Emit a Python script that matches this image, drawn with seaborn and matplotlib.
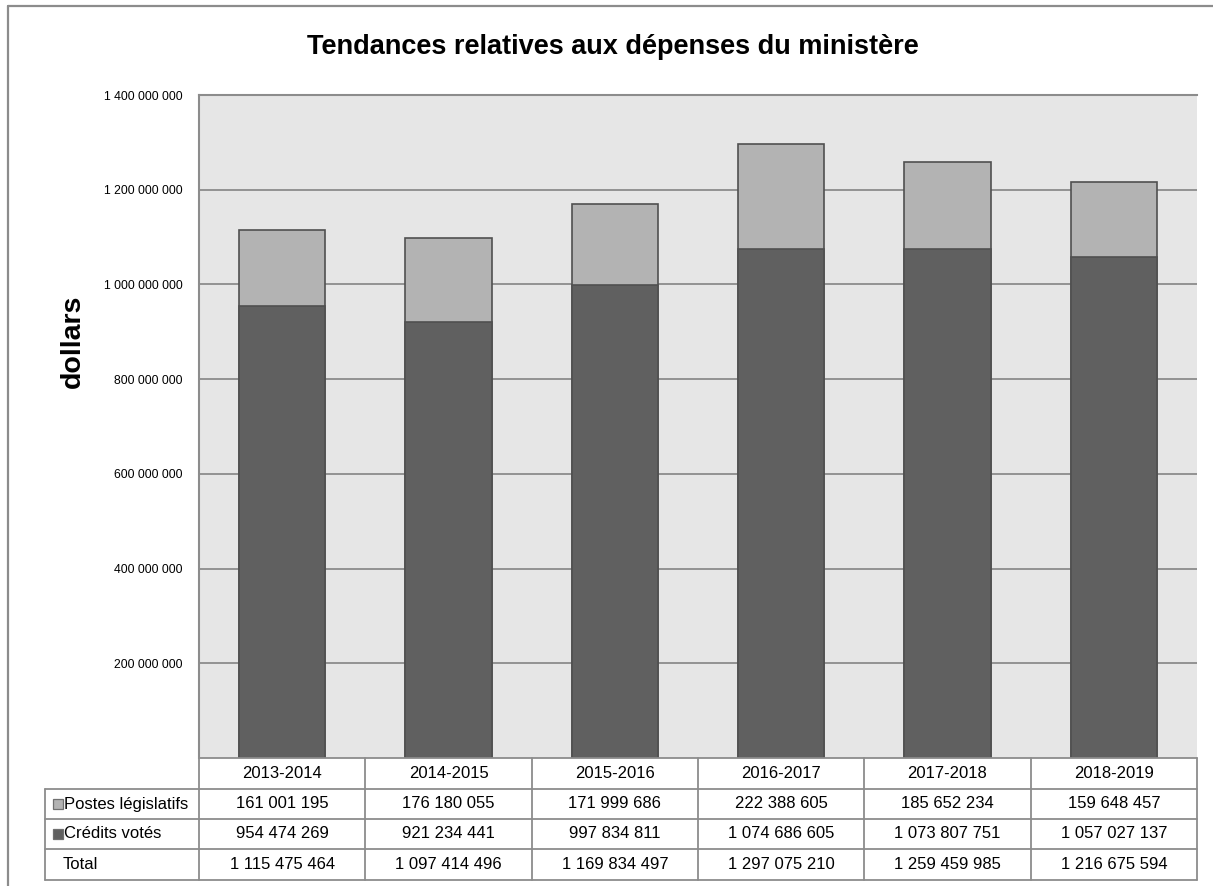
import matplotlib
matplotlib.use("Agg")
import matplotlib.pyplot as plt
import seaborn as sns
import pandas as pd
from matplotlib.lines import Line2D
from matplotlib.patches import Rectangle

years = ["2013-2014", "2014-2015", "2015-2016", "2016-2017", "2017-2018", "2018-2019"]
postes_legislatifs = [161001195, 176180055, 171999686, 222388605, 185652234, 159648457]
credits_votes = [954474269, 921234441, 997834811, 1074686605, 1073807751, 1057027137]
totals = [1115475464, 1097414496, 1169834497, 1297075210, 1259459985, 1216675594]
yticks = [200000000, 400000000, 600000000, 800000000, 1000000000, 1200000000, 1400000000]

sns.set_style("white")
plt.rcParams['font.family'] = ['Liberation Sans', 'DejaVu Sans']
plt.rcParams['text.color'] = 'black'
plt.rcParams['ytick.color'] = 'black'
plt.rcParams['ytick.labelcolor'] = 'black'

W, H = 1213, 886
fig = plt.figure(figsize=(W / 100, H / 100), dpi=100)

def fx(px):
    return px / W

def fy(py):
    return 1 - py / H

ax_l, ax_r, ax_t, ax_b = 199, 1197, 95, 758
ax = fig.add_axes([fx(ax_l), fy(ax_b), fx(ax_r - ax_l), (ax_b - ax_t) / H])
ax.set_facecolor("#e6e6e6")

df = pd.DataFrame({"year": years, "total": totals, "votes": credits_votes})
light = "#b3b3b3"
dark = "#606060"
edge = "#505050"
sns.barplot(data=df, x="year", y="total", color=light, saturation=1, width=0.52,
            edgecolor=edge, linewidth=1.2, ax=ax, zorder=3)
sns.barplot(data=df, x="year", y="votes", color=dark, saturation=1, width=0.52,
            edgecolor=edge, linewidth=1.2, ax=ax, zorder=4)

ax.set_xlim(-0.5, len(years) - 0.5)
ax.set_ylim(0, 1400000000)
ax.set_yticks(yticks)
ax.set_yticklabels([f"{v:,}".replace(",", " ") for v in yticks], fontsize=8.8)
ax.tick_params(axis="y", length=0, pad=12)
ax.set_xticks([])
ax.set_xlabel("")
ax.set_ylabel("")
ax.yaxis.grid(True, color="#8c8c8c", linewidth=1.3, zorder=1)
ax.set_axisbelow(True)
for s in ["right", "bottom"]:
    ax.spines[s].set_visible(False)
for s in ["left", "top"]:
    ax.spines[s].set_color("#8c8c8c")
    ax.spines[s].set_linewidth(1.5)

# Title and y-label
fig.text(fx(613), fy(47), "Tendances relatives aux dépenses du ministère",
         ha="center", va="center", fontsize=19.5, fontweight="bold")
fig.text(fx(73), fy(341), "dollars", ha="center", va="center", rotation=90,
         fontsize=20.5, fontweight="bold")

# Outer frame (top and left)
fc = "#8c8c8c"
fig.add_artist(Line2D([fx(8), 1], [fy(5.5), fy(5.5)], color=fc, lw=1.6))
fig.add_artist(Line2D([fx(8), fx(8)], [fy(5.5), 0], color=fc, lw=1.6))

# Data table
rows_y = [758, 789, 819, 849, 880]
tab_l = 45
col_w = (ax_r - ax_l) / len(years)
lc = "#8c8c8c"
lw = 1.3
fig.add_artist(Line2D([fx(ax_l), fx(ax_r)], [fy(rows_y[0]), fy(rows_y[0])], color=lc, lw=lw))
for yy in rows_y[1:]:
    fig.add_artist(Line2D([fx(tab_l), fx(ax_r)], [fy(yy), fy(yy)], color=lc, lw=lw))
for i in range(len(years) + 1):
    xx = ax_l + i * col_w
    fig.add_artist(Line2D([fx(xx), fx(xx)], [fy(rows_y[0]), fy(rows_y[-1])], color=lc, lw=lw))
fig.add_artist(Line2D([fx(tab_l), fx(tab_l)], [fy(rows_y[1]), fy(rows_y[-1])], color=lc, lw=lw))

def fmt(v):
    return f"{v:,}".replace(",", " ")

row_vals = [postes_legislatifs, credits_votes, totals]
row_labels = ["Postes législatifs", "Crédits votés", "Total"]
row_colors = [light, dark, None]
tfs = 12
for i, y in enumerate(years):
    cx = ax_l + (i + 0.5) * col_w
    fig.text(fx(cx), fy((rows_y[0] + rows_y[1]) / 2), y, ha="center", va="center",
             fontsize=tfs)
for r in range(3):
    cy = (rows_y[r + 1] + rows_y[r + 2]) / 2
    for i in range(len(years)):
        cx = ax_l + (i + 0.5) * col_w
        fig.text(fx(cx), fy(cy), fmt(row_vals[r][i]), ha="center", va="center",
                 fontsize=tfs)
    if row_colors[r] is not None:
        fig.add_artist(Rectangle((fx(52.5), fy(cy + 5)), fx(10), 10 / H,
                                 facecolor=row_colors[r], edgecolor="#707070", lw=0.9))
        fig.text(fx(64), fy(cy), row_labels[r], ha="left", va="center", fontsize=tfs)
    else:
        fig.text(fx(63), fy(cy), row_labels[r], ha="left", va="center", fontsize=tfs)

fig.savefig("out.png", dpi=100, facecolor="white")
